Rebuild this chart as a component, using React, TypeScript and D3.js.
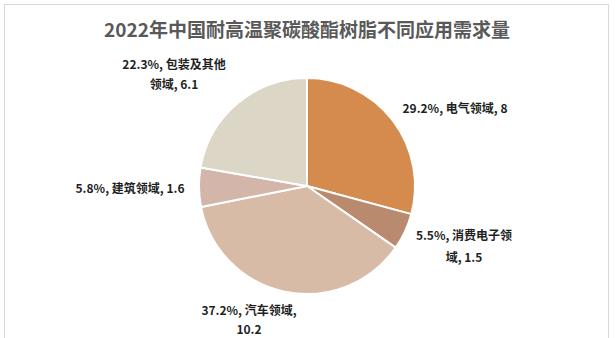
import React from "react";
import * as d3 from "d3";

const title = "2022年中国耐高温聚碳酸酯树脂不同应用需求量";
const categories = ["电气领域", "消费电子领域", "汽车领域", "建筑领域", "包装及其他领域"];
const values = [8, 1.5, 10.2, 1.6, 6.1];
const percents = ["29.2%", "5.5%", "37.2%", "5.8%", "22.3%"];
const colors = ["#D48B4D", "#B98A6D", "#D7BBA6", "#D3B5A9", "#DCD6C7"];
// label lines as shown in the chart
const labelLines = [
  ["29.2%, 电气领域, 8"],
  ["5.5%, 消费电子领", "域, 1.5"],
  ["37.2%, 汽车领域,", "10.2"],
  ["5.8%, 建筑领域, 1.6"],
  ["22.3%, 包装及其他", "领域, 6.1"],
];
const labelPos: [number, number][] = [
  [455, 109],
  [464, 236],
  [249, 311],
  [130, 189],
  [174, 65],
];
const lineGap = [20, 22, 19, 20, 20];

export default function App() {
  const W = 616, H = 338;
  const cx = 307, cy = 186, r = 108;
  const pie = d3.pie<number>().sort(null).value((d) => d)(values);
  const arc = d3.arc<d3.PieArcDatum<number>>().innerRadius(0).outerRadius(r);
  return (
    <svg width={W} height={H} style={{ position: "absolute", left: 0, top: 0 }}
      fontFamily="'Noto Sans CJK SC', 'Noto Sans', sans-serif">
      <rect x={0} y={0} width={W} height={H} fill="#fff" />
      <rect x={4.5} y={4.5} width={604} height={H} fill="#fff" stroke="#D9D9D9" strokeWidth={1} />
      <text x={307} y={37} textAnchor="middle" fontSize={19} fontWeight="bold" fill="#595959">{title}</text>
      <g transform={`translate(${cx},${cy})`}>
        {pie.map((p, i) => (
          <path key={categories[i]} d={arc(p) || ""} fill={colors[i]} stroke="#fff" strokeWidth={2} strokeLinejoin="round" />
        ))}
      </g>
      {labelLines.map((lines, i) => (
        <text key={i} textAnchor="middle" fontSize={12} fontWeight="bold" fill="#1f1f1f">
          {lines.map((l, j) => (
            <tspan key={j} x={labelPos[i][0]} y={labelPos[i][1] + 4 + j * lineGap[i]}>{l}</tspan>
          ))}
        </text>
      ))}
    </svg>
  );
}
